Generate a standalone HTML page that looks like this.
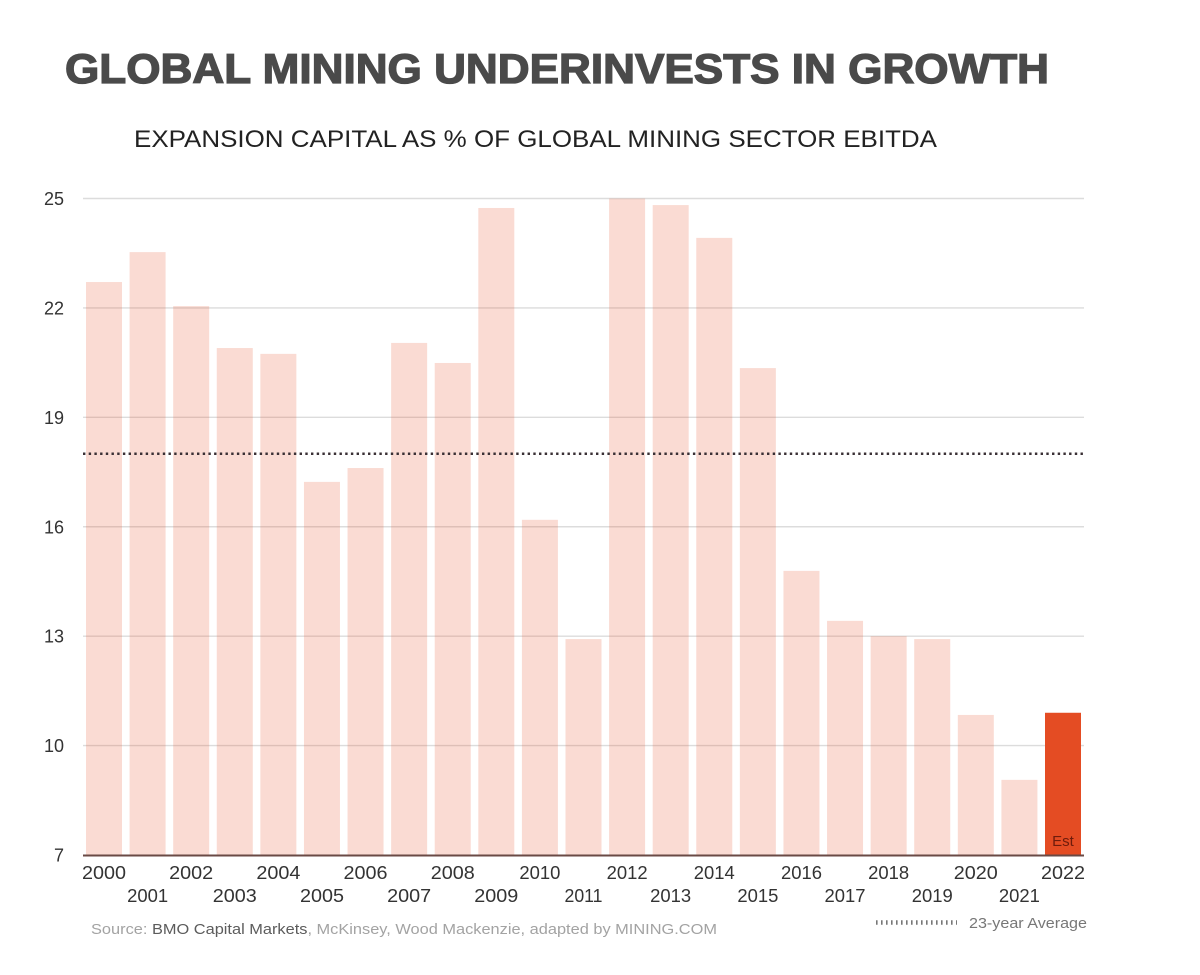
<!DOCTYPE html>
<html lang="en">
<head>
<meta charset="utf-8">
<title>Global Mining Underinvests in Growth</title>
<style>
html,body{margin:0;padding:0;background:#fff;width:1200px;height:975px;overflow:hidden}
svg{display:block}
text{font-family:"Liberation Sans",sans-serif}
</style>
</head>
<body>
<svg id="chart" width="1200" height="975" viewBox="0 0 1200 975" xmlns="http://www.w3.org/2000/svg">
  <rect width="1200" height="975" fill="#ffffff"/>
  <text x="65" y="83" font-size="41.5" font-weight="700" fill="#4a4a4a" stroke="#4a4a4a" stroke-width="1.3" textLength="984" lengthAdjust="spacingAndGlyphs">GLOBAL MINING UNDERINVESTS IN GROWTH</text>
  <text x="134" y="147" font-size="24" fill="#222222" textLength="803" lengthAdjust="spacingAndGlyphs">EXPANSION CAPITAL AS % OF GLOBAL MINING SECTOR EBITDA</text>
  <g id="grid"></g>
  <g id="bars"></g>
  <g id="avg"></g>
  <g id="yticks"></g>
  <g id="xticks"></g>
  <line x1="83" x2="1084" y1="855.5" y2="855.5" stroke="#6a4a45" stroke-width="2"/>
  <text x="1063" y="846" font-size="15" text-anchor="middle" fill="#6e1c0c">Est</text>
  <text x="91" y="934" font-size="15" fill="#a3a3a3" textLength="626" lengthAdjust="spacingAndGlyphs">Source: <tspan fill="#5c5c5c">BMO Capital Markets</tspan>, McKinsey, Wood Mackenzie, adapted by MINING.COM</text>
  <g>
    <line x1="876" x2="957" y1="922.5" y2="922.5" stroke="#777777" stroke-width="4.5" stroke-dasharray="1.6 3.4"/>
    <text x="969" y="928" font-size="15" fill="#777777" textLength="118" lengthAdjust="spacingAndGlyphs">23-year Average</text>
  </g>
</svg>
<script>
const categories = ["2000","2001","2002","2003","2004","2005","2006","2007","2008","2009","2010","2011","2012","2013","2014","2015","2016","2017","2018","2019","2020","2021","2022"];
const expansionShare = [22.71,23.53,22.05,20.9,20.74,17.23,17.61,21.04,20.49,24.74,16.19,12.92,25,24.82,23.92,20.35,14.79,13.42,13.0,12.92,10.84,9.06,10.9];
const yTickLabels = [7,10,13,16,19,22,25];
const averageValue = [18];

const NS = 'http://www.w3.org/2000/svg';
const plotLeft = 83, plotRight = 1084, plotTop = 198.5, plotBottom = 855;
const firstBarLeft = 86, lastBarLeft = 1045, barWidth = 36;
const yMin = 7, yMax = 25;

function yScale(v) {
  return plotBottom - (v - yMin) * (plotBottom - plotTop) / (yMax - yMin);
}
function xBandLeft(i) {
  return firstBarLeft + i * (lastBarLeft - firstBarLeft) / (categories.length - 1);
}
function make(tag, attrs, parent) {
  const el = document.createElementNS(NS, tag);
  Object.keys(attrs).forEach(function (k) { el.setAttribute(k, attrs[k]); });
  parent.appendChild(el);
  return el;
}

const grid = document.getElementById('grid');
const yticks = document.getElementById('yticks');
yTickLabels.forEach(function (t) {
  if (t !== yMin) {
    const line = make('line', {x1: plotLeft, x2: plotRight, y1: yScale(t), y2: yScale(t), stroke: '#dcdcdc', 'stroke-width': 1.4}, grid);
    
    
  }
  const label = make('text', {x: 64, y: yScale(t) + 6.5, 'text-anchor': 'end', 'font-size': 18, fill: '#333333'}, yticks);
  
  
  label.textContent = t;
});

const bars = document.getElementById('bars');
const xticks = document.getElementById('xticks');
categories.forEach(function (c, i) {
  const last = i === categories.length - 1;
  const top = yScale(expansionShare[i]);
  const bar = make('rect', {
    x: xBandLeft(i), y: top, width: barWidth, height: plotBottom - top,
    fill: last ? '#e44c23' : 'rgba(228,76,35,0.2)'
  }, bars);
  
  

  const ones = c.split('1').length - 1;
  const label = make('text', {
    x: xBandLeft(i) + barWidth / 2, y: i % 2 === 0 ? 879 : 902,
    'text-anchor': 'middle', 'font-size': 18, fill: '#333333',
    textLength: 44 - 3 * ones, lengthAdjust: 'spacingAndGlyphs'
  }, xticks);
  
  
  label.textContent = c;
});

const avgGroup = document.getElementById('avg');
const avgLine = make('line', {
  x1: plotLeft, x2: plotRight, y1: yScale(averageValue[0]), y2: yScale(averageValue[0]),
  stroke: '#3a3035', 'stroke-width': 2.5, 'stroke-dasharray': '2.4 3.3'
}, avgGroup);


</script>
</body>
</html>
